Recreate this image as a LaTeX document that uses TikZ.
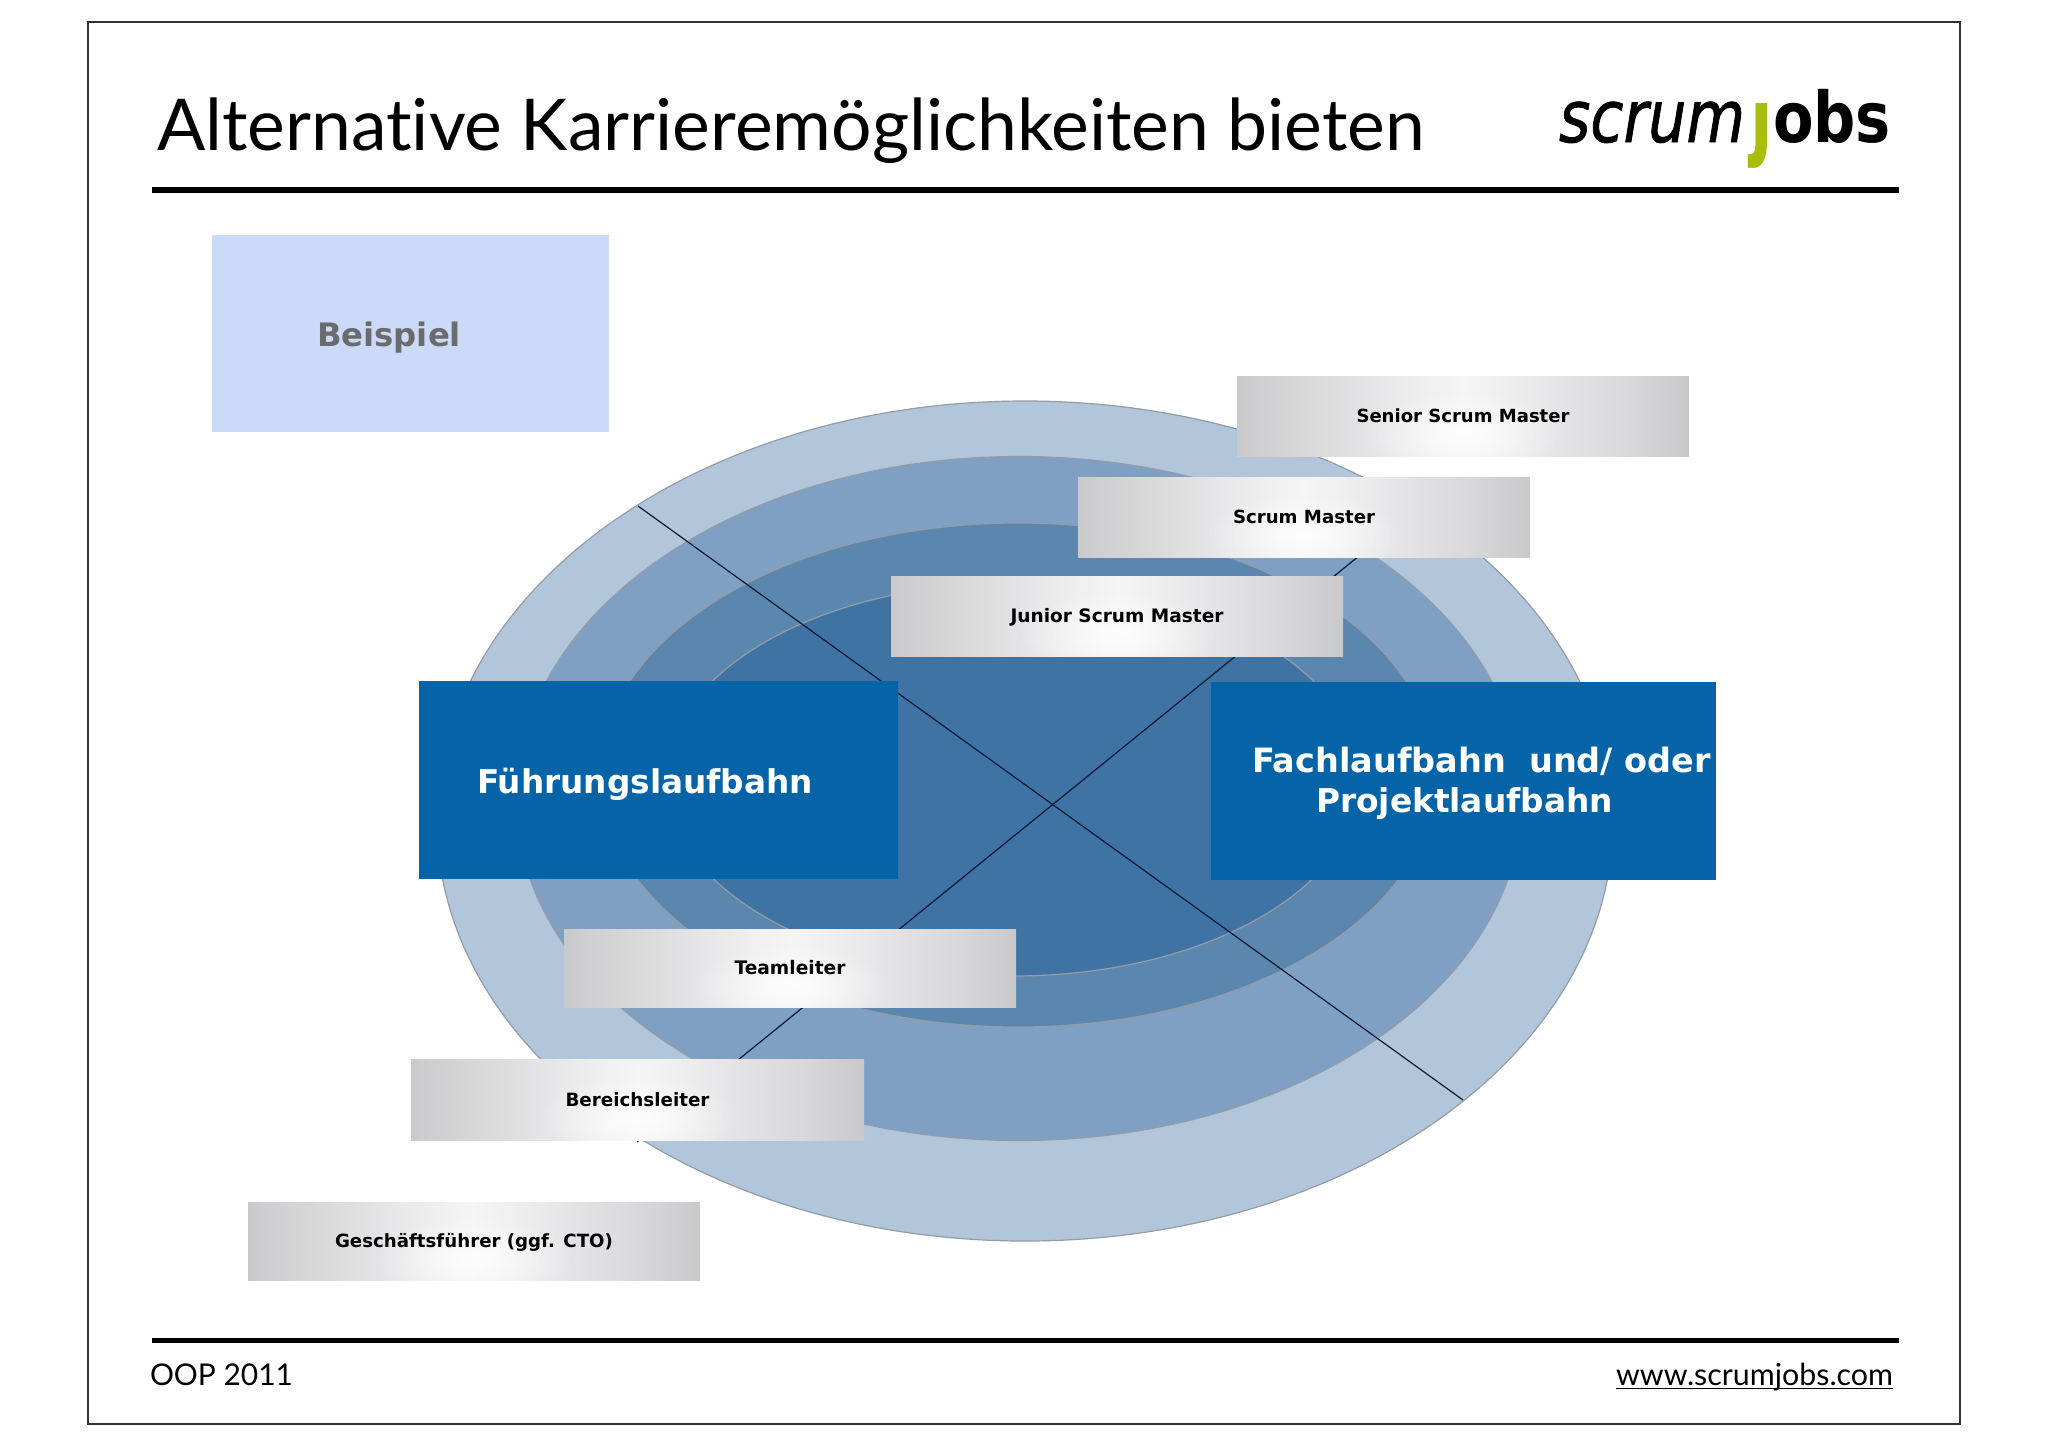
\documentclass[tikz,border=0pt]{standalone}
\usepackage{fontspec}
\usepackage{graphicx}
\usetikzlibrary{fadings}
\setmainfont{Lato}[Ligatures=NoCommon]
\newfontfamily\vfont{DejaVu Sans}[BoldFont={DejaVu Sans Bold}]
\newfontfamily\logoit{DejaVu Sans Oblique}[FakeBold=1.2]
\newfontfamily\logobf{DejaVu Sans Bold}
\newfontfamily\logoj{DejaVu Sans Bold}
\definecolor{ringA}{HTML}{B1C6DB}
\definecolor{ringB}{HTML}{7FA0C2}
\definecolor{ringC}{HTML}{5B87AE}
\definecolor{ringD}{HTML}{3F73A4}
\definecolor{ringE}{HTML}{949CA6}
\definecolor{blueBox}{HTML}{0563A8}
\definecolor{beiBox}{HTML}{CBDAF8}
\definecolor{beiText}{HTML}{6B6B6D}
\definecolor{lineC}{HTML}{0A1A35}
\definecolor{logoG}{HTML}{A9BE0A}
\pgfdeclarehorizontalshading{boxshade}{100bp}{
  rgb(0bp)=(0.79,0.79,0.80);
  rgb(25bp)=(0.79,0.79,0.80);
  rgb(27bp)=(0.81,0.81,0.82);
  rgb(33bp)=(0.85,0.85,0.85);
  rgb(40bp)=(0.90,0.90,0.91);
  rgb(46bp)=(0.94,0.94,0.94);
  rgb(50bp)=(0.96,0.96,0.96);
  rgb(54bp)=(0.94,0.94,0.94);
  rgb(60bp)=(0.90,0.90,0.91);
  rgb(68bp)=(0.85,0.85,0.86);
  rgb(75bp)=(0.79,0.79,0.80);
  rgb(100bp)=(0.79,0.79,0.80)}
\tikzfading[name=glowfade, inner color=transparent!20, outer color=transparent!100]
\tikzset{
  x=0.5pt,y=-0.5pt,
  ring/.style={draw=ringE,line width=0.6pt},
  xline/.style={draw=lineC,line width=0.6pt},
  rulebar/.style={draw=black,line width=2.9pt},
  txt/.style={inner sep=0pt,outer sep=0pt,anchor=base west},
  boxtxt/.style={inner sep=0pt,outer sep=0pt,anchor=base,font=\vfont\bfseries\fontsize{10}{12}\selectfont,text=black},
  bigtxt/.style={inner sep=0pt,outer sep=0pt,anchor=base west,font=\vfont\bfseries\fontsize{14}{17}\selectfont},
  rectbox/.style={inner sep=0pt,outer sep=0pt,anchor=north west,draw=none}
}
\newcommand{\greybox}[7]{% name x0 y0 x1 y1 text width
  \shade[shading=boxshade] (#2,#3) rectangle (#4,#5);
  \begin{scope}
    \clip (#2,#3) rectangle (#4,#5);
    \fill[white,path fading=glowfade] ({#2+0.28*(#4-#2)},{#3+15}) rectangle ({#2+0.72*(#4-#2)},{#5+20});
  \end{scope}
  \node[inner sep=0pt] (#1) at ({(#2+#4)/2},{(#3+#5)/2}) {};
  \node[boxtxt] (#1t) at ({(#2+#4)/2},{(#3+#5)/2+6.5}) {\resizebox{#7}{!}{#6}};
}
\begin{document}
\begin{tikzpicture}
\useasboundingbox (0,0) rectangle (2048,1447);
\fill[white] (0,0) rectangle (2048,1447);
% frame
\draw[draw=black!80,line width=0.7pt] (88,22) rectangle (1960,1424);
% title
\node[txt] (title) at (157,150) {\resizebox{634pt}{!}{\fontsize{36}{40}\selectfont Alternative Karrieremöglichkeiten bieten}};
% logo
\node[txt] (logoa) at (1559,142) {\resizebox{93pt}{\height}{\logoit\fontsize{36}{40}\selectfont scrum}};
\begin{scope}
\clip (1746,103) rectangle (1772,170);
\node[txt,text=logoG] (logob) at (1750,142) {\scalebox{0.55}[1]{\logoj\fontsize{60}{60}\selectfont j}};
\end{scope}
\node[txt] (logoc) at (1773,142) {\resizebox{59pt}{\height}{\logobf\fontsize{35}{40}\selectfont obs}};
% rules
\coordinate (h1) at (152,189.7); \coordinate (h2) at (1899,189.7);
\coordinate (f1) at (152,1340.5); \coordinate (f2) at (1899,1340.5);
\draw[rulebar] (h1) -- (h2);
\draw[rulebar] (f1) -- (f2);
% ellipses
\draw[ring,fill=ringA] (1025,821) ellipse [x radius=588,y radius=420];
\draw[ring,fill=ringB] (1019,798.5) ellipse [x radius=503,y radius=342];
\draw[ring,fill=ringC] (1018,775) ellipse [x radius=418,y radius=252];
\draw[ring,fill=ringD] (1013,779.5) ellipse [x radius=347,y radius=196.5];
% cross lines
\coordinate (ul) at (638,506);
\coordinate (lr) at (1463,1100);
\coordinate (ur) at (1418,508);
\coordinate (ll) at (637,1142);
\draw[xline] (ul) -- (lr);
\draw[xline] (ur) -- (ll);
% Beispiel
\node[rectbox,fill=beiBox,minimum width=198.5pt,minimum height=98.5pt] (bei) at (212,235) {};
\node[bigtxt,text=beiText] (beit) at (317,346) {\resizebox{72pt}{!}{Beispiel}};
% blue boxes
\node[rectbox,fill=blueBox,minimum width=239.75pt,minimum height=98.75pt] (fuehr) at (418.5,681) {};
\node[bigtxt,text=white] (fuehrt) at (477,793) {\resizebox{168pt}{!}{Führungslaufbahn}};
\node[rectbox,fill=blueBox,minimum width=252.5pt,minimum height=99pt] (fach) at (1211,682) {};
\node[bigtxt,text=white] (facht) at (1252,772) {\resizebox{229.5pt}{!}{Fachlaufbahn\ \ und/ oder}};
\node[bigtxt,text=white] (projt) at (1316,812) {\resizebox{148.5pt}{!}{Projektlaufbahn}};
% grey boxes
\greybox{sen}{1237}{376}{1689}{456}{Senior Scrum Master}{106.5pt}
\greybox{sm}{1078}{477}{1530}{557}{Scrum Master}{71pt}
\greybox{jun}{891}{576}{1343}{656}{Junior Scrum Master}{106.5pt}
\greybox{team}{564}{929}{1016}{1007}{Teamleiter}{55.5pt}
\greybox{ber}{411}{1059}{864}{1140}{Bereichsleiter}{72pt}
\greybox{gf}{248}{1202}{700}{1280}{Geschäftsführer (ggf. CTO)}{139pt}
% footer
\node[txt] (oop) at (150,1385) {\resizebox{71.5pt}{!}{\fontsize{16}{20}\selectfont OOP 2011}};
\node[txt] (url) at (1616,1385) {\resizebox{138.5pt}{!}{\fontsize{16}{20}\selectfont www.scrumjobs.com}};
\draw[draw=black,line width=0.7pt] ([yshift=-1.8pt]url.base west) -- ([yshift=-1.8pt]url.base east);
\end{tikzpicture}
\end{document}
